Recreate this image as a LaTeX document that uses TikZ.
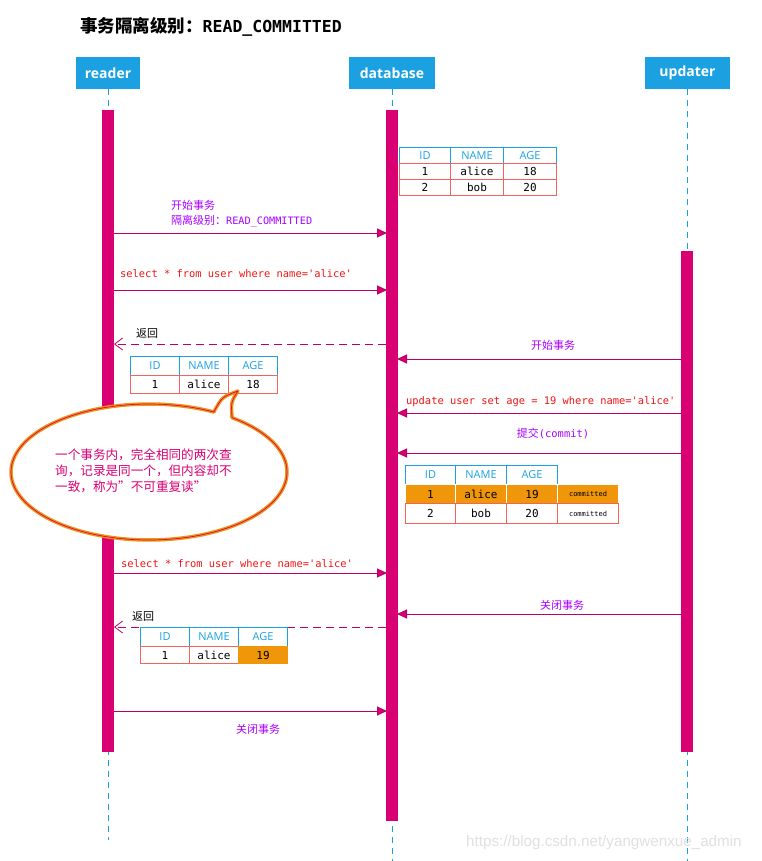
\documentclass[tikz,border=0pt]{standalone}
\usepackage{fontspec}
\usetikzlibrary{arrows.meta}
\setmainfont{Noto Sans}
\newfontfamily\cjk{Noto Sans CJK SC}
\newfontfamily\mono{DejaVu Sans Mono}
\newfontfamily\hsans{Open Sans}
\newfontfamily\wmfont{Liberation Sans}
\definecolor{hblue}{HTML}{1BA1E2}
\definecolor{mag}{HTML}{D80073}
\definecolor{msgc}{HTML}{BE0066}
\definecolor{purp}{HTML}{AA00FF}
\definecolor{redt}{HTML}{F01414}
\definecolor{tred}{HTML}{F0645A}
\definecolor{orng}{HTML}{F0960A}
\tikzset{
 hdrbox/.style={fill=hblue, text=white, font=\hsans\bfseries\fontsize{14}{16}\selectfont, minimum height=32pt, inner sep=0},
 lifeline/.style={hblue, line width=1pt, dash pattern=on 6pt off 5pt},
 actbar/.style={fill=mag, draw=none, minimum width=12pt, inner sep=0, anchor=north},
 msg/.style={draw=msgc, line width=1pt, -{Triangle[length=10pt,width=9pt,fill=mag]}},
 ret/.style={draw=msgc, line width=1pt, dash pattern=on 8pt off 5pt, -{Straight Barb[length=8pt,width=12pt,line width=0.8pt]}},
 hcell/.style={draw=hblue, text=hblue, line width=1pt, font=\hsans\fontsize{11}{13}\selectfont, inner sep=0, anchor=north west},
 dcell/.style={draw=tred, text=black, line width=1pt, font=\mono\fontsize{11}{13}\selectfont, inner sep=0, anchor=north west},
 ocell/.style={dcell, fill=orng, draw=white},
 plab/.style={text=purp, font=\cjk\fontsize{11}{13}\selectfont, inner sep=0},
 rlab/.style={text=redt, font=\mono\fontsize{10.4}{12}\selectfont, inner sep=0, anchor=west},
 blab/.style={text=black, font=\cjk\fontsize{11}{13}\selectfont, inner sep=0, anchor=west},
 ctext/.style={text=mag, font=\cjk\fontsize{12.6}{14}\selectfont, inner sep=0, anchor=west},
 tiny/.style={font=\mono\fontsize{7}{8}\selectfont}
}
\begin{document}
\begin{tikzpicture}[x=1pt,y=-1pt]
\useasboundingbox (0,0) rectangle (762,861);
\fill[white] (0,0) rectangle (762,861);

% title
\node[anchor=west, inner sep=0] (title) at (80,27) {{\cjk\bfseries\fontsize{17.5}{19}\selectfont 事务隔离级别：}{\mono\bfseries\fontsize{16.5}{19}\selectfont READ\_COMMITTED}};

% header boxes
\node[hdrbox, minimum width=64pt] (rhead) at (108,73) {reader};
\node[hdrbox, minimum width=86pt] (dhead) at (392,73) {database};
\node[hdrbox, minimum width=85pt] (uhead) at (687.5,73) {updater};

% lifelines
\coordinate (rend) at (108,840);
\coordinate (dend) at (392,861);
\coordinate (uend) at (687,861);
\coordinate (utop) at (687,89);
\draw[lifeline] (rhead.south) -- (rend);
\draw[lifeline] (dhead.south) -- (dend);
\draw[lifeline] (utop) -- (uend);

% activation bars
\node[actbar, minimum height=642pt] (rbar) at (108,110) {};
\node[actbar, minimum height=711pt] (dbar) at (392,110) {};
\node[actbar, minimum height=501pt] (ubar) at (687,251) {};

% table 1
\node[hcell, minimum width=51pt, minimum height=16pt] (a11) at (399,147) {ID};
\node[hcell, minimum width=53pt, minimum height=16pt] (a12) at (450,147) {NAME};
\node[hcell, minimum width=53pt, minimum height=16pt] (a13) at (503,147) {AGE};
\node[dcell, minimum width=51pt, minimum height=16pt] (a21) at (399,163) {1};
\node[dcell, minimum width=53pt, minimum height=16pt] (a22) at (450,163) {alice};
\node[dcell, minimum width=53pt, minimum height=16pt] (a23) at (503,163) {18};
\node[dcell, minimum width=51pt, minimum height=16pt] (a31) at (399,179) {2};
\node[dcell, minimum width=53pt, minimum height=16pt] (a32) at (450,179) {bob};
\node[dcell, minimum width=53pt, minimum height=16pt] (a33) at (503,179) {20};

% message 1
\coordinate (m1s) at (114,233); \coordinate (m1e) at (387,233);
\draw[msg] (m1s) -- (m1e);
\node[plab, anchor=west] (l1a) at (171,205) {开始事务};
\node[plab, anchor=west] (l1b) at (171,221) {隔离级别：{\mono\fontsize{10.2}{12}\selectfont READ\_COMMITTED}};

% message 2
\coordinate (m2s) at (114,290); \coordinate (m2e) at (387,290);
\draw[msg] (m2s) -- (m2e);
\node[rlab] (l2) at (120,274) {select * from user where name='alice'};

% return 1
\coordinate (r1s) at (386,344); \coordinate (r1e) at (114,344);
\draw[ret] (r1s) -- (r1e);
\node[blab] (l3) at (136,333) {返回};

% table 2
\node[hcell, minimum width=49pt, minimum height=19pt] (b11) at (130,356) {ID};
\node[hcell, minimum width=49pt, minimum height=19pt] (b12) at (179,356) {NAME};
\node[hcell, minimum width=49pt, minimum height=19pt] (b13) at (228,356) {AGE};
\node[dcell, minimum width=49pt, minimum height=18pt] (b21) at (130,375) {1};
\node[dcell, minimum width=49pt, minimum height=18pt] (b22) at (179,375) {alice};
\node[dcell, minimum width=49pt, minimum height=18pt] (b23) at (228,375) {18};

% updater messages
\coordinate (m4s) at (681,359); \coordinate (m4e) at (397,359);
\draw[msg] (m4s) -- (m4e);
\node[plab] (l4) at (553,345) {开始事务};

\coordinate (m5s) at (681,413); \coordinate (m5e) at (397,413);
\draw[msg] (m5s) -- (m5e);
\node[rlab] (l5) at (406,402) {update user set age = 19 where name='alice'};

\coordinate (m6s) at (681,453); \coordinate (m6e) at (397,453);
\draw[msg] (m6s) -- (m6e);
\node[plab] (l6) at (553,434) {提交{\mono\fontsize{10.4}{12}\selectfont (commit)}};

% table 3
\node[hcell, minimum width=50pt, minimum height=19pt] (c11) at (405,465) {ID};
\node[hcell, minimum width=51pt, minimum height=19pt] (c12) at (455,465) {NAME};
\node[hcell, minimum width=51pt, minimum height=19pt] (c13) at (506,465) {AGE};
\node[ocell, minimum width=50pt, minimum height=19pt] (c21) at (405,484) {1};
\node[ocell, minimum width=51pt, minimum height=19pt] (c22) at (455,484) {alice};
\node[ocell, minimum width=51pt, minimum height=19pt] (c23) at (506,484) {19};
\node[ocell, tiny, minimum width=61pt, minimum height=19pt] (c24) at (557,484) {committed};
\node[dcell, minimum width=50pt, minimum height=20pt] (c31) at (405,503) {2};
\node[dcell, minimum width=51pt, minimum height=20pt] (c32) at (455,503) {bob};
\node[dcell, minimum width=51pt, minimum height=20pt] (c33) at (506,503) {20};
\node[dcell, tiny, minimum width=61pt, minimum height=20pt] (c34) at (557,503) {committed};

% callout
\def\calloutpath{plot[domain=62:413, samples=160, variable=\t] ({149+138*cos(\t)},{472-68*sin(\t)}) .. controls (231,402) .. (238,391) .. controls (222,397) .. (213.8,412) -- cycle}
\fill[white] \calloutpath;
\draw[orng, line width=3.5pt, line join=round] \calloutpath;
\draw[mag, line width=0.7pt, line join=round] \calloutpath;
\node[ctext] (ct1) at (55,455) {一个事务内，完全相同的两次查};
\node[ctext] (ct2) at (55,471) {询，记录是同一个，但内容却不};
\node[ctext] (ct3) at (55,487) {一致，称为”不可重复读”};

% message 7
\coordinate (m7s) at (114,573); \coordinate (m7e) at (387,573);
\draw[msg] (m7s) -- (m7e);
\node[rlab] (l7) at (121,564) {select * from user where name='alice'};

% message 8
\coordinate (m8s) at (681,614); \coordinate (m8e) at (397,614);
\draw[msg] (m8s) -- (m8e);
\node[plab] (l8) at (562,605) {关闭事务};

% return 2
\coordinate (r2s) at (386,627); \coordinate (r2e) at (114,627);
\draw[ret] (r2s) -- (r2e);
\node[blab] (l9) at (132,616) {返回};

% table 4
\node[hcell, fill=white, minimum width=49pt, minimum height=19pt] (d11) at (140,627) {ID};
\node[hcell, fill=white, minimum width=49pt, minimum height=19pt] (d12) at (189,627) {NAME};
\node[hcell, fill=white, minimum width=49pt, minimum height=19pt] (d13) at (238,627) {AGE};
\node[dcell, minimum width=49pt, minimum height=17pt] (d21) at (140,646) {1};
\node[dcell, minimum width=49pt, minimum height=17pt] (d22) at (189,646) {alice};
\node[dcell, fill=orng, draw=orng, minimum width=49pt, minimum height=17pt] (d23) at (238,646) {19};

% message 10
\coordinate (m10s) at (114,711); \coordinate (m10e) at (387,711);
\draw[msg] (m10s) -- (m10e);
\node[plab] (l10) at (258,729) {关闭事务};

% watermark
\node[anchor=west, inner sep=0, text=black!12, font=\wmfont\fontsize{15.2}{17}\selectfont] (wm) at (466,843) {https://blog.csdn.net/yangwenxue\_admin};
\end{tikzpicture}
\end{document}
